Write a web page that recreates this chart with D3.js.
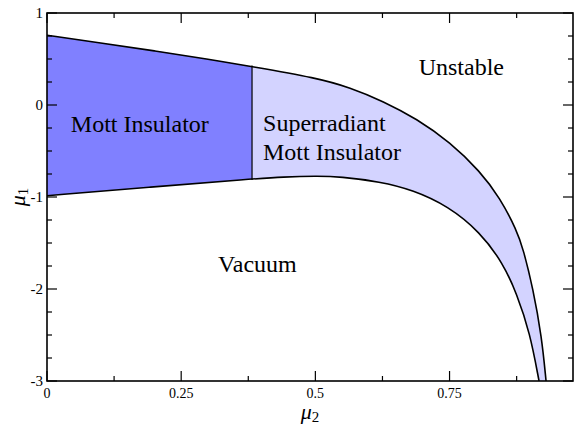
<!DOCTYPE html>
<html>
<head>
<meta charset="utf-8">
<script src="https://cdn.jsdelivr.net/npm/d3@7"></script>
<style>
  html, body { margin: 0; padding: 0; background: #fff; }
  svg { display: block; }
</style>
</head>
<body>
<svg id="chart" width="576" height="424"></svg>
<script>
// ---- data ----
const upperMu2 = [0, 0.1, 0.2, 0.3, 0.382, 0.5025, 0.5646, 0.6266, 0.6888, 0.751, 0.8068, 0.844, 0.875, 0.887, 0.9055, 0.9217, 0.9298];
const upperMu1 = [0.758, 0.675, 0.59, 0.497, 0.418, 0.294, 0.19, 0.04, -0.15, -0.405, -0.72, -1.01, -1.36, -1.56, -1.995, -2.52, -3.0];
const lowerMu2 = [0, 0.19, 0.382, 0.44, 0.5025, 0.546, 0.6205, 0.682, 0.747, 0.8068, 0.8496, 0.875, 0.8999, 0.9167];
const lowerMu1 = [-0.986, -0.893, -0.804, -0.782, -0.772, -0.779, -0.834, -0.924, -1.098, -1.38, -1.72, -2.047, -2.478, -3.0];
const mottEdgeMu2 = 0.382;
const xMajorTicks = [0, 0.25, 0.5, 0.75];
const xTickLabels = ["0", "0.25", "0.5", "0.75"];
const yMajorTicks = [1, 0, -1, -2, -3];
const yTickLabels = ["1", "0", "-1", "-2", "-3"];
const regionNames = ["Mott Insulator", "Superradiant", "Mott Insulator", "Unstable", "Vacuum"];

(function () {
const FONT = "'Liberation Serif', 'Times New Roman', serif";
const svg = d3.select("#chart");
const pL = 47, pT = 13, pR = 573, pB = 381;
const x = d3.scaleLinear().domain([0, 0.98]).range([pL, pR]);
const y = d3.scaleLinear().domain([-3, 1]).range([pB, pT]);

const upper = upperMu2.map((d, i) => [d, upperMu1[i]]);
const lower = lowerMu2.map((d, i) => [d, lowerMu1[i]]);

const defs = svg.append("defs");
defs.append("clipPath").attr("id", "plotClip").append("rect")
  .attr("x", pL).attr("y", pT).attr("width", pR - pL).attr("height", pB - pT);
defs.append("clipPath").attr("id", "mottClip").append("rect")
  .attr("x", pL).attr("y", pT).attr("width", x(mottEdgeMu2) - pL).attr("height", pB - pT);

const line = d3.line().x(d => x(d[0])).y(d => y(d[1])).curve(d3.curveBasis);
const underUpper = line(upper) + "L" + x(upper[upper.length - 1][0]) + "," + (pB + 5) + "L" + pL + "," + (pB + 5) + "Z";
const underLower = line(lower) + "L" + x(lower[lower.length - 1][0]) + "," + (pB + 5) + "L" + pL + "," + (pB + 5) + "Z";

const g = svg.append("g").attr("clip-path", "url(#plotClip)");
g.append("path").attr("d", underUpper).attr("fill", "#d3d3ff");
g.append("g").attr("clip-path", "url(#mottClip)")
  .append("path").attr("d", underUpper).attr("fill", "#8080ff");
g.append("path").attr("d", underLower).attr("fill", "#ffffff");

const interp = (arr, xv) => {
  for (let i = 0; i < arr.length - 1; i++) {
    if (xv >= arr[i][0] && xv <= arr[i + 1][0]) {
      const t = (xv - arr[i][0]) / (arr[i + 1][0] - arr[i][0]);
      return arr[i][1] + t * (arr[i + 1][1] - arr[i][1]);
    }
  }
  return arr[arr.length - 1][1];
};
g.append("line")
  .attr("x1", x(mottEdgeMu2)).attr("x2", x(mottEdgeMu2))
  .attr("y1", y(interp(upper, mottEdgeMu2)) - 1).attr("y2", y(interp(lower, mottEdgeMu2)) + 1)
  .attr("stroke", "#000").attr("stroke-width", 1.2);

g.append("path").attr("d", line(upper)).attr("fill", "none").attr("stroke", "#000").attr("stroke-width", 1.6);
g.append("path").attr("d", line(lower)).attr("fill", "none").attr("stroke", "#000").attr("stroke-width", 1.6);

// ---- axes (ticks pointing inward) ----
const ax = svg.append("g");
const xMinor = d3.range(0.125, 0.98, 0.25);
const yMinor = d3.range(-3, 1.001, 0.25).filter(v => Math.abs(v - Math.round(v)) > 1e-6);
const tick = (x1, y1, x2, y2) => ax.append("line").attr("x1", x1).attr("y1", y1).attr("x2", x2).attr("y2", y2)
  .attr("stroke", "#000").attr("stroke-width", 1.2);
xMajorTicks.forEach(v => { tick(x(v), pB, x(v), pB - 10); tick(x(v), pT, x(v), pT + 10); });
xMinor.forEach(v => { tick(x(v), pB, x(v), pB - 5); tick(x(v), pT, x(v), pT + 5); });
yMajorTicks.forEach(v => { tick(pL, y(v), pL + 10, y(v)); tick(pR, y(v), pR - 10, y(v)); });
yMinor.forEach(v => { tick(pL, y(v), pL + 5, y(v)); tick(pR, y(v), pR - 5, y(v)); });

ax.append("rect").attr("x", pL).attr("y", pT).attr("width", pR - pL).attr("height", pB - pT)
  .attr("fill", "none").attr("stroke", "#000").attr("stroke-width", 1.6);

xMajorTicks.forEach((v, i) => {
  ax.append("text").attr("x", x(v)).attr("y", pB + 17).attr("text-anchor", "middle")
    .attr("font-family", FONT).attr("font-size", 14).text(xTickLabels[i]);
});
yMajorTicks.forEach((v, i) => {
  ax.append("text").attr("x", pL - 4).attr("y", y(v) + 5).attr("text-anchor", "end")
    .attr("font-family", FONT).attr("font-size", 15).text(yTickLabels[i]);
});

// axis titles
const xt = svg.append("text").attr("x", 310).attr("y", 419).attr("text-anchor", "middle").attr("font-family", FONT);
xt.append("tspan").attr("font-style", "italic").attr("font-size", 22).text("μ");
xt.append("tspan").attr("font-size", 15).attr("dy", 3).text("2");
const yt = svg.append("text").attr("transform", "translate(25," + y(-1) + ") rotate(-90)")
  .attr("text-anchor", "middle").attr("font-family", FONT);
yt.append("tspan").attr("font-style", "italic").attr("font-size", 22).text("μ");
yt.append("tspan").attr("font-size", 15).attr("dy", 3).text("1");

// region labels
const label = (txt, px, py, anchor) => svg.append("text").attr("x", px).attr("y", py)
  .attr("text-anchor", anchor).attr("font-family", FONT).attr("font-size", 24).text(txt);
label(regionNames[0], x(0.173), y(-0.293), "middle");
label(regionNames[1], x(0.4025), y(-0.283), "start");
label(regionNames[2], x(0.4025), y(-0.598), "start");
label(regionNames[3], x(0.772), y(0.326), "middle");
label(regionNames[4], x(0.392), y(-1.815), "middle");
})();
</script>
</body>
</html>
